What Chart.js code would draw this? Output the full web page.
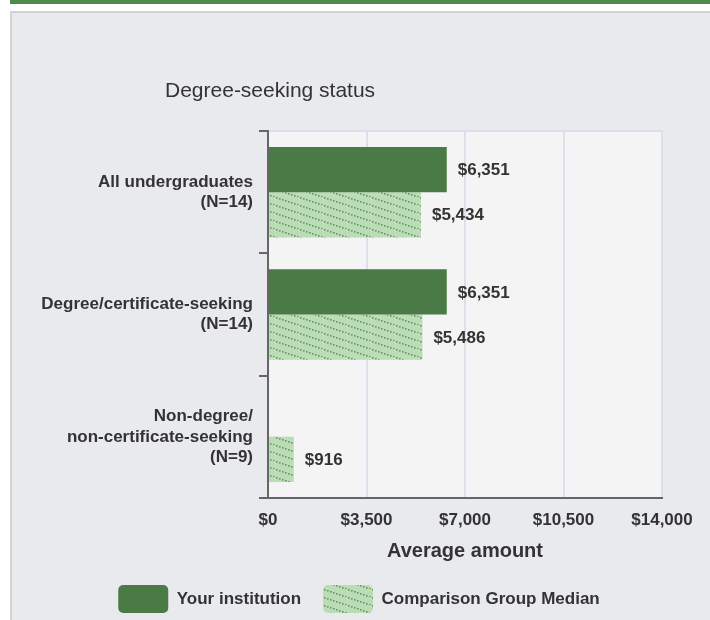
<!DOCTYPE html>
<html>
<head>
<meta charset="utf-8">
<script src="https://cdn.jsdelivr.net/npm/chart.js@4.4.1/dist/chart.umd.min.js"></script>
<style>
  body { margin: 0; background: #fff; width: 710px; height: 620px; overflow: hidden; position: relative; font-family: "Liberation Sans", Arial, sans-serif; }
  #topbar { position: absolute; left: 10px; top: 0; width: 700px; height: 4px; background: #4f8a4b; }
  #panel { position: absolute; left: 10px; top: 11px; width: 698px; height: 609px; background: #e9eaee; border-left: 2px solid #d3d3d3; border-top: 2px solid #d3d3d3; }
  #title { position: absolute; left: 153px; top: 65px; font-size: 21px; line-height: 24px; color: #333; }
  #wrap { position: absolute; left: 0; top: 0; width: 698px; height: 610px; }
</style>
</head>
<body>
<div id="topbar"></div>
<div id="panel">
  <div id="wrap"><canvas id="chart"></canvas></div>
  <div id="title">Degree-seeking status</div>
</div>
<script>
// data
const categories = [
  ["All undergraduates", "(N=14)"],
  ["Degree/certificate-seeking", "(N=14)"],
  ["Non-degree/", "non-certificate-seeking", "(N=9)"]
];
const yourInstitution = [6351, 6351, null];
const comparisonMedian = [5434, 5486, 916];
const seriesNames = ["Your institution", "Comparison Group Median"];
const xTicks = [0, 3500, 7000, 10500, 14000];

const FONT = "'Liberation Sans', Arial, sans-serif";

function money(v) {
  return "$" + v.toLocaleString("en-US");
}

// dotted diagonal hatch like the original
function makeHatch() {
  const c = document.createElement("canvas");
  c.width = 24; c.height = 8;
  const g = c.getContext("2d");
  g.fillStyle = "#bbdcb7";
  g.fillRect(0, 0, 24, 8);
  g.fillStyle = "#5f9c5a";
  for (let x = 0; x < 24; x += 3) {
    g.fillRect(x, x / 3, 1.6, 1.6);
  }
  return g.createPattern(c, "repeat");
}

const plotBg = {
  id: "plotBg",
  beforeDraw(chart) {
    const { ctx, chartArea: a } = chart;
    ctx.save();
    ctx.fillStyle = "#f4f4f4";
    ctx.fillRect(a.left, a.top, a.right - a.left, a.bottom - a.top);
    ctx.strokeStyle = "#dcdfe8";
    ctx.lineWidth = 2;
    ctx.strokeRect(a.left, a.top, a.right - a.left, a.bottom - a.top);
    ctx.restore();
  }
};

// legend in the original sits a bit right of centre
const legendShift = {
  id: "legendShift",
  afterLayout(chart) {
    chart.legend.left += 22;
    chart.legend.right += 22;
  }
};

const valueLabels = {
  id: "valueLabels",
  afterDatasetsDraw(chart) {
    const ctx = chart.ctx;
    ctx.save();
    ctx.font = "bold 17px " + FONT;
    ctx.fillStyle = "#333";
    ctx.textBaseline = "middle";
    chart.data.datasets.forEach((ds, i) => {
      chart.getDatasetMeta(i).data.forEach((bar, j) => {
        const v = ds.data[j];
        if (v == null) return;
        ctx.fillText(money(v), bar.x + 11, bar.y + 1);
      });
    });
    ctx.restore();
  }
};

const ctx = document.getElementById("chart").getContext("2d");
new Chart(ctx, {
  type: "bar",
  data: {
    labels: categories,
    datasets: [
      { label: seriesNames[0], data: yourInstitution, backgroundColor: "#4a7a45", borderWidth: 0 },
      { label: seriesNames[1], data: comparisonMedian, backgroundColor: makeHatch(), borderWidth: 0 }
    ]
  },
  options: {
    indexAxis: "y",
    responsive: true,
    maintainAspectRatio: false,
    animation: false,
    categoryPercentage: 0.74,
    barPercentage: 1,
    layout: { padding: { top: 118, right: 48, bottom: 0, left: 0 } },
    scales: {
      x: {
        min: 0, max: 14000,
        afterBuildTicks(scale) { scale.ticks = xTicks.map(v => ({ value: v })); },
        afterFit(scale) { scale.height = 65; },
        ticks: {
          color: "#333",
          font: { family: FONT, size: 17, weight: "bold" },
          padding: 12,
          maxRotation: 0,
          callback: v => money(v)
        },
        grid: { color: "#dde0ea", lineWidth: 2, drawTicks: false },
        border: { color: "#666", width: 2 },
        title: {
          display: true, text: "Average amount", color: "#333",
          font: { family: FONT, size: 20, weight: "bold" },
          padding: { top: 0, bottom: 0 }
        }
      },
      y: {
        afterFit(scale) { scale.width = 256; },
        ticks: {
          color: "#333",
          crossAlign: "near",
          padding: 6,
          font: { family: FONT, size: 17, weight: "bold" }
        },
        grid: { drawOnChartArea: false, drawTicks: true, tickLength: 9, tickColor: "#666", lineWidth: 2 },
        border: { color: "#666", width: 2 }
      }
    },
    plugins: {
      legend: {
        position: "bottom",
        labels: {
          color: "#333",
          boxWidth: 50, boxHeight: 28,
          useBorderRadius: true, borderRadius: 5,
          padding: 22,
          font: { family: FONT, size: 17, weight: "bold" }
        }
      },
      tooltip: { enabled: false }
    }
  },
  plugins: [plotBg, legendShift, valueLabels]
});
</script>
</body>
</html>
